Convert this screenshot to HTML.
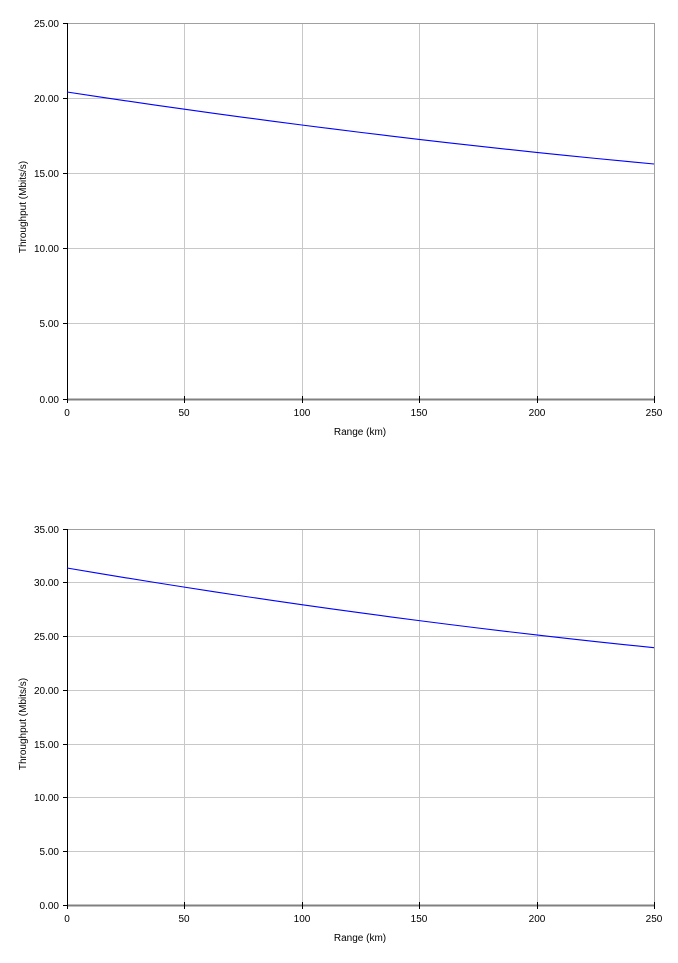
<!DOCTYPE html>
<html>
<head>
<meta charset="utf-8">
<style>
  html, body { margin: 0; padding: 0; background: #ffffff; }
  svg { display: block; }
  text { font-family: "Liberation Sans", Arial, sans-serif; font-size: 10px; fill: #000; }
</style>
</head>
<body>
<svg width="678" height="963" viewBox="0 0 678 963" xmlns="http://www.w3.org/2000/svg">
  <rect x="0" y="0" width="678" height="963" fill="#ffffff"/>

  <!-- ================= TOP CHART ================= -->
  <g shape-rendering="crispEdges">
    <!-- horizontal gridlines -->
    <g stroke="#c8c8c8" stroke-width="1">
      <line x1="67" y1="98.5" x2="654" y2="98.5"/>
      <line x1="67" y1="173.5" x2="654" y2="173.5"/>
      <line x1="67" y1="248.5" x2="654" y2="248.5"/>
      <line x1="67" y1="323.5" x2="654" y2="323.5"/>
      <!-- vertical gridlines -->
      <line x1="184.5" y1="23" x2="184.5" y2="399"/>
      <line x1="302.5" y1="23" x2="302.5" y2="399"/>
      <line x1="419.5" y1="23" x2="419.5" y2="399"/>
      <line x1="537.5" y1="23" x2="537.5" y2="399"/>
    </g>
    <!-- plot border top/right -->
    <line x1="67" y1="23.5" x2="654" y2="23.5" stroke="#a0a0a0" stroke-width="1"/>
    <line x1="654.5" y1="23" x2="654.5" y2="400" stroke="#a0a0a0" stroke-width="1"/>
    <!-- x axis -->
    <line x1="67" y1="399.5" x2="655" y2="399.5" stroke="#808080" stroke-width="2"/>
    <!-- y axis -->
    <line x1="67.5" y1="23" x2="67.5" y2="401" stroke="#000" stroke-width="1"/>
    <!-- y ticks -->
    <g stroke="#000" stroke-width="1">
      <line x1="63" y1="23.5" x2="67" y2="23.5"/>
      <line x1="63" y1="98.5" x2="67" y2="98.5"/>
      <line x1="63" y1="173.5" x2="67" y2="173.5"/>
      <line x1="63" y1="248.5" x2="67" y2="248.5"/>
      <line x1="63" y1="323.5" x2="67" y2="323.5"/>
      <line x1="63" y1="399.5" x2="67" y2="399.5"/>
      <!-- x ticks -->
      <line x1="67.5" y1="396" x2="67.5" y2="403"/>
      <line x1="184.5" y1="396" x2="184.5" y2="403"/>
      <line x1="302.5" y1="396" x2="302.5" y2="403"/>
      <line x1="419.5" y1="396" x2="419.5" y2="403"/>
      <line x1="537.5" y1="396" x2="537.5" y2="403"/>
      <line x1="654.5" y1="396" x2="654.5" y2="403"/>
    </g>
  </g>
  <!-- data line -->
  <polyline fill="none" stroke="#0000ff" stroke-width="1.1"
    points="67,92 96.35,96.43 125.7,100.78 155.05,105.03 184.4,109.2 213.75,113.28 243.1,117.28 272.45,121.18 301.8,125 331.15,128.73 360.5,132.38 389.85,135.93 419.2,139.4 448.55,142.78 477.9,146.08 507.25,149.28 536.6,152.4 565.95,155.43 595.3,158.38 624.65,161.23 654,164"/>
  <!-- y tick labels -->
  <g text-anchor="end">
    <text x="59" y="27">25.00</text>
    <text x="59" y="102">20.00</text>
    <text x="59" y="177">15.00</text>
    <text x="59" y="252">10.00</text>
    <text x="59" y="327">5.00</text>
    <text x="59" y="403">0.00</text>
  </g>
  <!-- x tick labels -->
  <g text-anchor="middle">
    <text x="67" y="416">0</text>
    <text x="184" y="416">50</text>
    <text x="302" y="416">100</text>
    <text x="419" y="416">150</text>
    <text x="537" y="416">200</text>
    <text x="654" y="416">250</text>
  </g>
  <text x="360" y="435" text-anchor="middle">Range (km)</text>
  <text transform="translate(26,207) rotate(-90)" text-anchor="middle">Throughput (Mbits/s)</text>

  <!-- ================= BOTTOM CHART ================= -->
  <g shape-rendering="crispEdges">
    <g stroke="#c8c8c8" stroke-width="1">
      <line x1="67" y1="582.5" x2="654" y2="582.5"/>
      <line x1="67" y1="636.5" x2="654" y2="636.5"/>
      <line x1="67" y1="690.5" x2="654" y2="690.5"/>
      <line x1="67" y1="744.5" x2="654" y2="744.5"/>
      <line x1="67" y1="797.5" x2="654" y2="797.5"/>
      <line x1="67" y1="851.5" x2="654" y2="851.5"/>
      <line x1="184.5" y1="529" x2="184.5" y2="905"/>
      <line x1="302.5" y1="529" x2="302.5" y2="905"/>
      <line x1="419.5" y1="529" x2="419.5" y2="905"/>
      <line x1="537.5" y1="529" x2="537.5" y2="905"/>
    </g>
    <line x1="67" y1="529.5" x2="654" y2="529.5" stroke="#a0a0a0" stroke-width="1"/>
    <line x1="654.5" y1="529" x2="654.5" y2="906" stroke="#a0a0a0" stroke-width="1"/>
    <line x1="67" y1="905.5" x2="655" y2="905.5" stroke="#808080" stroke-width="2"/>
    <line x1="67.5" y1="529" x2="67.5" y2="907" stroke="#000" stroke-width="1"/>
    <g stroke="#000" stroke-width="1">
      <line x1="63" y1="529.5" x2="67" y2="529.5"/>
      <line x1="63" y1="582.5" x2="67" y2="582.5"/>
      <line x1="63" y1="636.5" x2="67" y2="636.5"/>
      <line x1="63" y1="690.5" x2="67" y2="690.5"/>
      <line x1="63" y1="744.5" x2="67" y2="744.5"/>
      <line x1="63" y1="797.5" x2="67" y2="797.5"/>
      <line x1="63" y1="851.5" x2="67" y2="851.5"/>
      <line x1="63" y1="905.5" x2="67" y2="905.5"/>
      <line x1="67.5" y1="902" x2="67.5" y2="909"/>
      <line x1="184.5" y1="902" x2="184.5" y2="909"/>
      <line x1="302.5" y1="902" x2="302.5" y2="909"/>
      <line x1="419.5" y1="902" x2="419.5" y2="909"/>
      <line x1="537.5" y1="902" x2="537.5" y2="909"/>
      <line x1="654.5" y1="902" x2="654.5" y2="909"/>
    </g>
  </g>
  <polyline fill="none" stroke="#0000ff" stroke-width="1.1"
    points="67,568 96.35,572.94 125.7,577.77 155.05,582.51 184.4,587.14 213.75,591.68 243.1,596.11 272.45,600.45 301.8,604.68 331.15,608.82 360.5,612.85 389.85,616.79 419.2,620.62 448.55,624.36 477.9,628 507.25,631.53 536.6,634.96 565.95,638.3 595.3,641.53 624.65,644.67 654,647.7"/>
  <g text-anchor="end">
    <text x="59" y="533">35.00</text>
    <text x="59" y="586">30.00</text>
    <text x="59" y="640">25.00</text>
    <text x="59" y="694">20.00</text>
    <text x="59" y="748">15.00</text>
    <text x="59" y="801">10.00</text>
    <text x="59" y="855">5.00</text>
    <text x="59" y="909">0.00</text>
  </g>
  <g text-anchor="middle">
    <text x="67" y="922">0</text>
    <text x="184" y="922">50</text>
    <text x="302" y="922">100</text>
    <text x="419" y="922">150</text>
    <text x="537" y="922">200</text>
    <text x="654" y="922">250</text>
  </g>
  <text x="360" y="941" text-anchor="middle">Range (km)</text>
  <text transform="translate(26,724) rotate(-90)" text-anchor="middle">Throughput (Mbits/s)</text>
</svg>
</body>
</html>
